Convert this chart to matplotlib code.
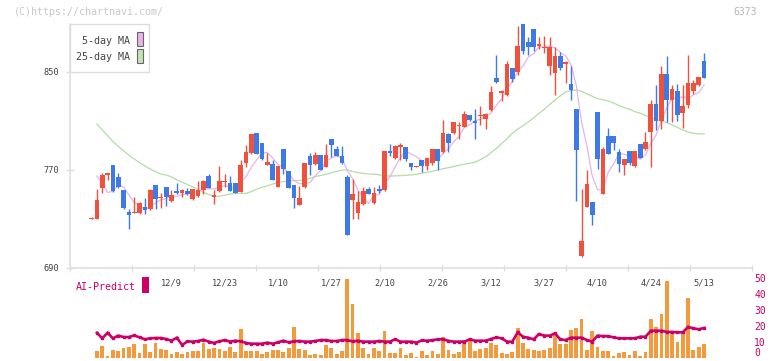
import numpy as np
import matplotlib
matplotlib.use("Agg")
import matplotlib.pyplot as plt
from matplotlib.patches import Rectangle

# ---------------- data ----------------
opens = [730.0, 730.1, 755.0, 766.0, 773.5, 763.7, 753.4, 735.8, 735.0, 735.0,
         739.3, 737.7, 757.2, 747.0, 755.6, 744.5, 752.3, 751.3, 752.6, 745.8,
         748.5, 753.4, 764.5, 748.0, 752.6, 760.0, 759.4, 759.4, 751.8, 775.4,
         783.5, 800.3, 792.2, 773.7, 774.3, 755.8, 787.3, 768.6, 757.2, 741.2,
         755.8, 781.6, 774.3, 782.4, 772.1, 795.5, 787.3, 781.6, 763.7, 745.2,
         734.4, 741.8, 754.0, 743.1, 754.0, 753.4, 784.9, 779.2, 788.4, 788.4,
         775.9, 772.1, 777.6, 772.9, 775.1, 787.3, 784.3, 799.5, 799.8, 806.0,
         805.0, 815.0, 810.1, 814.2, 811.7, 818.5, 845.3, 832.3, 830.7, 853.0,
         850.0, 889.0, 874.4, 885.0, 871.4, 869.8, 854.3, 849.2, 863.0, 856.7,
         840.2, 819.9, 699.7, 739.6, 743.4, 817.4, 749.9, 797.9, 797.9, 784.1,
         773.8, 784.9, 772.9, 791.4, 787.3, 801.1, 823.9, 810.1, 848.3, 827.2,
         834.5, 816.6, 823.1, 834.5, 839.4, 858.9]
highs = [731.0, 754.0, 767.0, 767.5, 774.0, 767.6, 753.8, 737.7, 748.0, 744.0,
         746.6, 754.0, 757.5, 750.7, 755.8, 753.7, 759.4, 754.0, 755.0, 754.5,
         761.0, 761.3, 766.2, 753.2, 772.7, 766.2, 764.5, 759.4, 777.6, 790.6,
         799.5, 800.3, 792.2, 783.5, 777.6, 772.7, 787.3, 768.6, 757.2, 756.7,
         775.1, 783.3, 784.6, 782.4, 790.8, 795.5, 789.2, 789.2, 765.4, 762.1,
         752.3, 755.8, 756.0, 756.2, 757.2, 784.9, 790.8, 790.6, 792.0, 788.4,
         775.9, 773.0, 777.6, 779.8, 787.3, 787.3, 810.9, 800.0, 809.3, 809.3,
         817.7, 815.0, 819.9, 822.3, 816.0, 838.0, 863.8, 835.3, 858.4, 853.0,
         887.4, 889.0, 878.5, 885.0, 878.5, 879.3, 878.5, 870.3, 866.3, 858.9,
         854.3, 819.9, 754.0, 769.4, 744.0, 817.4, 788.7, 804.4, 797.9, 787.3,
         778.4, 785.0, 785.0, 791.4, 801.1, 827.2, 839.4, 854.8, 863.0, 839.4,
         840.2, 839.4, 863.8, 843.5, 845.9, 865.4]
lows = [730.0, 730.0, 751.3, 761.5, 752.0, 755.0, 738.0, 721.4, 734.5, 734.0,
        734.2, 737.0, 738.3, 739.0, 740.0, 744.0, 750.5, 747.7, 749.0, 745.0,
        748.0, 749.9, 754.8, 741.8, 752.0, 756.2, 752.6, 750.7, 751.8, 772.4,
        782.5, 782.5, 778.0, 773.7, 761.5, 755.8, 766.2, 755.0, 738.8, 741.2,
        755.0, 765.6, 774.0, 769.4, 772.0, 780.3, 781.0, 775.0, 716.5, 729.6,
        729.6, 741.0, 749.9, 742.0, 751.3, 753.0, 781.0, 779.0, 777.8, 777.0,
        769.7, 772.0, 768.0, 769.7, 774.0, 769.7, 784.0, 784.3, 799.5, 795.5,
        805.0, 810.0, 794.9, 806.3, 803.0, 818.0, 841.0, 825.8, 830.0, 841.3,
        847.5, 864.9, 863.3, 867.3, 868.5, 865.2, 847.5, 831.3, 851.6, 840.5,
        827.2, 744.5, 698.9, 739.6, 724.9, 770.2, 749.9, 782.7, 786.5, 768.1,
        765.6, 774.0, 772.0, 779.4, 786.5, 772.1, 802.8, 803.6, 809.3, 809.3,
        810.1, 804.4, 820.7, 832.0, 838.0, 845.0]
closes = [730.5, 745.3, 766.0, 767.0, 752.6, 755.9, 738.5, 732.8, 735.5, 742.8,
          737.1, 753.2, 745.8, 748.0, 747.7, 749.1, 751.0, 753.4, 749.9, 754.0,
          753.2, 760.4, 754.8, 749.0, 760.5, 760.7, 752.6, 750.7, 773.5, 784.1,
          799.5, 782.5, 778.4, 776.2, 761.5, 772.7, 770.8, 755.0, 747.2, 746.6,
          775.1, 773.7, 782.4, 769.4, 782.4, 790.0, 781.6, 775.4, 716.5, 750.0,
          743.4, 752.3, 749.9, 750.7, 752.6, 784.9, 783.5, 789.2, 790.6, 778.4,
          772.1, 772.9, 772.9, 779.8, 787.3, 777.0, 800.3, 791.6, 809.3, 806.6,
          815.8, 810.4, 807.9, 814.8, 815.8, 833.1, 841.3, 834.2, 856.5, 844.3,
          871.1, 867.3, 870.6, 870.6, 872.8, 870.3, 870.3, 863.0, 853.2, 857.6,
          834.8, 786.5, 711.7, 758.0, 733.1, 778.6, 787.3, 782.7, 791.6, 774.6,
          778.4, 775.1, 784.9, 779.4, 793.0, 823.9, 810.1, 848.3, 827.2, 836.1,
          815.0, 822.3, 841.0, 841.0, 845.9, 845.3]

nan = float("nan")
ma5 = [nan, 764.8, 759.0, 751.5, 752.3, 757.4, 756.0, 749.4, 743.1, 741.1,
       737.3, 740.3, 742.9, 745.4, 746.4, 748.8, 748.3, 749.8, 750.2, 751.5,
       752.3, 754.2, 754.5, 754.3, 755.6, 757.1, 755.5, 754.7, 759.6, 764.3,
       772.1, 778.1, 783.6, 784.1, 779.6, 774.3, 771.9, 767.2, 761.4, 758.5,
       758.9, 759.5, 765.0, 769.4, 776.6, 779.6, 781.2, 779.8, 769.2, 762.7,
       753.4, 747.5, 742.4, 749.3, 749.8, 758.1, 764.3, 772.2, 780.2, 785.3,
       782.8, 780.6, 777.4, 775.2, 777.0, 778.0, 783.5, 787.2, 793.1, 797.0,
       804.7, 806.7, 810.0, 811.1, 812.9, 816.4, 822.6, 827.8, 836.2, 841.9,
       849.5, 854.7, 862.0, 864.8, 870.5, 870.3, 870.9, 869.4, 865.9, 862.9,
       855.8, 839.0, 808.8, 789.7, 764.8, 753.6, 753.7, 767.9, 774.7, 783.0,
       782.9, 780.5, 780.9, 778.5, 782.2, 791.3, 798.3, 810.9, 820.5, 829.1,
       827.3, 829.8, 828.3, 831.1, 833.0, 839.1]
ma25 = [nan, 807.3, 802.5, 797.8, 793.0, 789.1, 785.5, 781.9, 778.8, 775.7,
        773.1, 770.6, 768.5, 766.4, 765.7, 764.1, 761.7, 759.8, 758.0, 755.9,
        753.8, 751.6, 749.7, 748.3, 748.3, 749.2, 750.2, 750.6, 750.7, 750.7,
        752.1, 754.2, 755.6, 756.9, 758.3, 759.5, 760.3, 761.0, 761.1, 761.2,
        761.5, 763.0, 764.5, 765.3, 766.2, 767.5, 768.7, 769.6, 770.0, 768.5,
        767.7, 767.0, 766.5, 766.3, 765.8, 765.3, 764.8, 765.0, 765.2, 765.5,
        765.8, 766.3, 767.2, 767.8, 768.8, 769.8, 770.8, 771.7, 772.6, 773.7,
        774.5, 775.3, 776.2, 778.2, 780.6, 784.0, 787.5, 791.3, 795.4, 799.6,
        803.0, 806.0, 809.0, 812.4, 816.0, 819.3, 823.2, 826.8, 830.3, 833.5,
        834.5, 835.2, 834.0, 832.0, 830.0, 828.0, 827.2, 826.1, 824.5, 822.5,
        820.7, 819.5, 817.4, 816.1, 814.3, 812.5, 811.2, 809.8, 808.5, 806.5,
        804.6, 802.5, 800.7, 799.8, 799.3, 799.3]
volume = [nan, 4.2, 7.4, 1.1, 4.8, 4.2, 6.1, 6.7, 8.6, 3.0,
          8.6, 3.6, 9.3, 5.5, 4.8, 2.3, 3.6, 2.3, 3.6, 4.2,
          4.2, 9.3, 5.5, 6.1, 5.5, 4.2, 6.7, 3.6, 18.1, 4.2,
          4.2, 4.2, 2.3, 3.6, 4.8, 4.8, 3.6, 6.1, 19.3, 5.5,
          4.8, 1.7, 2.3, 1.7, 8.0, 6.1, 2.3, 4.2, 49.6, 34.0,
          15.6, 6.1, 2.3, 6.1, 4.2, 16.8, 3.0, 3.0, 6.1, 1.7,
          3.0, 0.3, 4.2, 1.7, 4.2, 2.3, 13.0, 4.8, 2.3, 3.6,
          11.1, 11.1, 4.2, 5.5, 6.1, 9.3, 8.0, 3.0, 2.3, 3.6,
          18.7, 9.3, 5.5, 4.8, 4.2, 4.8, 6.1, 14.3, 8.6, 8.6,
          17.4, 18.7, 24.4, 4.8, 16.8, 6.7, 4.2, 4.2, 1.1, 3.0,
          3.6, 1.7, 4.2, 1.1, 3.6, 24.4, 19.3, 27.5, 48.3, 15.6,
          9.9, 15.6, 37.6, 4.8, 6.7, 8.6]
ai_predict = [nan, 15.7, 12.2, 15.7, 12.2, 13.9, 13.0, 13.0, 14.0, 12.8,
              11.6, 12.2, 12.4, 12.4, 11.8, 10.7, 12.6, 8.0, 10.3, 10.1,
              10.5, 11.3, 10.1, 9.3, 10.3, 11.1, 10.1, 10.7, 10.3, 9.3,
              8.8, 8.8, 8.8, 9.5, 8.8, 9.7, 10.7, 9.7, 10.3, 10.5,
              10.1, 10.1, 10.5, 11.1, 11.1, 10.5, 10.5, 11.1, 11.1, 10.3,
              10.7, 10.1, 10.1, 10.1, 10.5, 10.1, 10.1, 11.6, 10.1, 10.1,
              10.1, 9.5, 10.9, 10.7, 11.0, 11.6, 11.6, 10.6, 10.1, 10.1,
              10.1, 11.6, 10.7, 10.7, 10.7, 11.8, 12.8, 12.2, 10.1, 10.1,
              16.0, 13.2, 12.6, 11.6, 14.9, 13.9, 13.9, 15.3, 11.6, 11.1,
              12.6, 12.6, 12.6, 11.1, 10.1, 13.9, 13.6, 13.6, 12.8, 12.2,
              12.2, 12.2, 12.2, 13.2, 13.2, 17.0, 17.0, 17.0, 16.2, 16.2,
              16.0, 16.0, 19.4, 18.5, 17.9, 18.7]

date_label_pos = [15, 25, 35, 45, 55, 65, 75, 85, 95, 105, 115]
date_labels = ["12/9", "12/23", "1/10", "1/27", "2/10", "2/26",
               "3/12", "3/27", "4/10", "4/24", "5/13"]
price_ticks = [690, 770, 850]
vol_ticks = [0, 10, 20, 30, 40, 50]

for arr in (opens, highs, lows, closes, ma5, ma25, volume, ai_predict):
    assert len(arr) == 116, len(arr)

# ---------------- style ----------------
W, H = 772, 361
RED = "#f0503c"
BLUE = "#3d7ae8"
PINK = "#e8b4e8"
GREEN = "#b6dba6"
ORANGE = "#f39a3d"
MAG = "#cc0066"
GRID = "#dddddd"
TXT = "#444444"
FONT = "DejaVu Sans Mono"

def fx(px):
    return px / W

def fy(py):
    return 1 - py / H

fig = plt.figure(figsize=(W / 100, H / 100), dpi=100)
fig.patch.set_facecolor("white")

x = np.arange(len(closes))
o = np.array(opens); c = np.array(closes)
h = np.array(highs); l = np.array(lows)

# main axes: left 70.3, right 752, top 24, bottom 267.7
left, right, top, bottom = 70.3, 752.0, 24.0, 267.7
ax = fig.add_axes([fx(left), fy(bottom), (right - left) / W, (bottom - top) / H])
ax.set_xlim(-4, 124)
ax.set_ylim(690, 889)
ax.set_facecolor("none")

ax.plot(x, ma25, color=GREEN, lw=0.9, zorder=1)
ax.plot(x, ma5, color=PINK, lw=0.9, zorder=1)

up = c >= o
colors = np.where(up, RED, BLUE)
ax.vlines(x, l, h, colors=colors, lw=1.0, zorder=2, clip_on=False)
body_lo = np.minimum(o, c)
body_h = np.maximum(np.abs(c - o), 0.8)
ax.bar(x, body_h, bottom=body_lo, width=0.88, color=colors, lw=0,
       zorder=3, clip_on=False)

for s in ("top", "right"):
    ax.spines[s].set_visible(False)
for s in ("left", "bottom"):
    ax.spines[s].set_color(GRID)
    ax.spines[s].set_linewidth(1.1)

ax.set_yticks(price_ticks)
ax.set_yticklabels([str(v) for v in price_ticks])
ax.tick_params(axis="y", direction="inout", length=6, width=1, color=GRID,
               pad=4.8, labelsize=6.2, labelcolor=TXT)
for t in ax.get_yticklabels():
    t.set_fontfamily(FONT)

ax.set_xticks(date_label_pos)
ax.set_xticklabels(date_labels)
ax.tick_params(axis="x", which="major", length=0, pad=8.0, labelsize=6.2,
               labelcolor=TXT)
for t in ax.get_xticklabels():
    t.set_fontfamily(FONT)
ax.set_xticks(np.linspace(-4, 124, 12), minor=True)
ax.tick_params(axis="x", which="minor", direction="inout", length=4, width=1,
               color=GRID)

# lower panel: 0 at 357.7, 50 at 278.3
vb, vt = 357.7, 278.3
ax2 = fig.add_axes([fx(left), fy(vb), (right - left) / W, (vb - vt) / H])
ax2.set_xlim(-4, 124)
ax2.set_ylim(0, 50)
ax2.set_facecolor("none")
ax2.bar(x, volume, width=0.72, color=ORANGE, lw=0, zorder=1, clip_on=False)
ax2.plot(x, ai_predict, color=MAG, lw=1.9, marker="s", ms=1.8,
         solid_joinstyle="miter", zorder=2)
for s in ax2.spines.values():
    s.set_visible(False)
ax2.set_xticks([])
ax2.yaxis.tick_right()
ax2.set_yticks(vol_ticks)
ax2.set_yticklabels([str(v) for v in vol_ticks])
ax2.tick_params(axis="y", length=0, pad=1.5, labelsize=7, labelcolor=MAG)
for t in ax2.get_yticklabels():
    t.set_fontfamily(FONT)
ax2.get_yticklabels()[0].set_verticalalignment("bottom")

# legend box for MAs
fig.add_artist(Rectangle((fx(70.3), fy(71.7)), (148.7 - 70.3) / W, (71.7 - 24.3) / H,
                         transform=fig.transFigure, facecolor="white",
                         edgecolor=GRID, lw=1.0, zorder=5))
fig.text(fx(130), fy(41), "5-day MA", ha="right", va="center", fontsize=7.2,
         color=TXT, family=FONT, zorder=6)
fig.text(fx(130), fy(57.3), "25-day MA", ha="right", va="center", fontsize=7.2,
         color=TXT, family=FONT, zorder=6)
fig.add_artist(Rectangle((fx(137), fy(46)), 5.7 / W, 14 / H,
                         transform=fig.transFigure, facecolor=PINK,
                         edgecolor="#666666", lw=0.8, zorder=6))
fig.add_artist(Rectangle((fx(137), fy(63)), 5.7 / W, 14 / H,
                         transform=fig.transFigure, facecolor="#c4e2b4",
                         edgecolor="#666666", lw=0.8, zorder=6))

# AI-Predict label
fig.text(fx(76), fy(286.5), "AI-Predict", ha="left", va="center", fontsize=7.2,
         color=MAG, family=FONT, zorder=6)
fig.add_artist(Rectangle((fx(142.3), fy(292.7)), 6.4 / W, 15.4 / H,
                         transform=fig.transFigure, facecolor=MAG,
                         edgecolor="none", zorder=6))

# watermark and code
fig.text(fx(14), fy(12), "(C)https://chartnavi.com/", ha="left", va="center",
         fontsize=7.2, color="#c8c8c8", family=FONT)
fig.text(fx(757), fy(12), "6373", ha="right", va="center", fontsize=7,
         color="#b8b8b8", family=FONT)

fig.savefig("out.png", dpi=100, facecolor="white")
